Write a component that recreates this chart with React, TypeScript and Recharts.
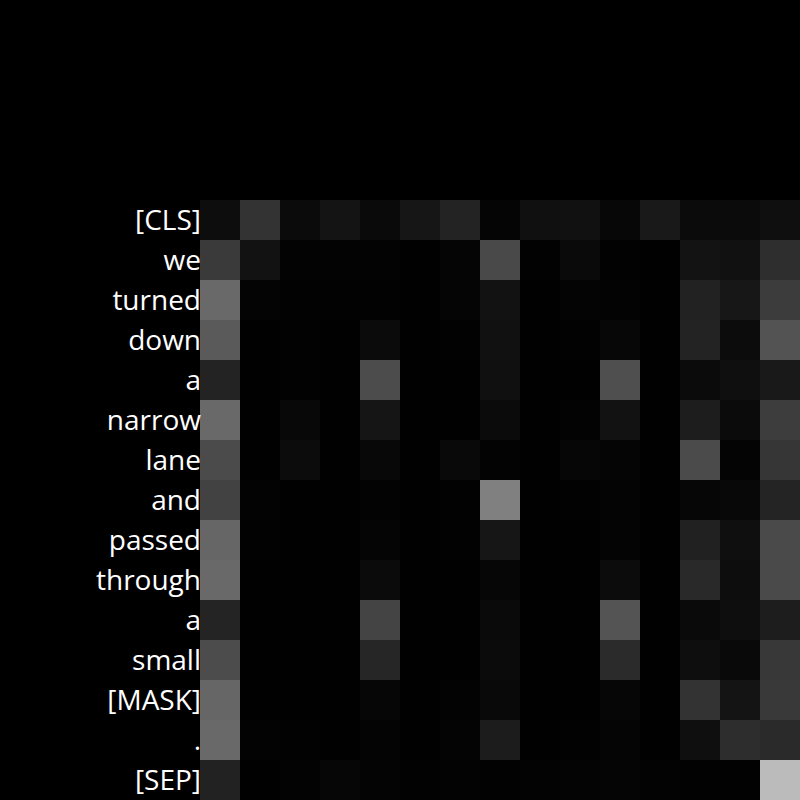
import React from 'react';
import { ScatterChart, Scatter, XAxis, YAxis } from 'recharts';

const tokens = [
    '[CLS]', 'we', 'turned', 'down', 'a', 'narrow', 'lane', 'and',
    'passed', 'through', 'a', 'small', '[MASK]', '.', '[SEP]',
];

// attention weights per row, read as grey level 0-255
const rowCls = [13, 51, 11, 20, 10, 22, 35, 5, 16, 17, 7, 25, 11, 11, 15];
const rowWe = [58, 18, 3, 3, 3, 1, 5, 73, 2, 10, 2, 1, 19, 17, 46];
const rowTurned = [105, 4, 2, 2, 2, 1, 5, 18, 1, 4, 3, 1, 34, 23, 60];
const rowDown = [90, 1, 2, 1, 11, 1, 2, 17, 1, 2, 7, 1, 35, 12, 83];
const rowA1 = [35, 1, 2, 1, 76, 1, 1, 16, 1, 1, 79, 1, 11, 15, 25];
const rowNarrow = [105, 1, 8, 1, 21, 1, 1, 11, 1, 3, 18, 1, 29, 11, 61];
const rowLane = [75, 1, 12, 1, 8, 1, 9, 3, 1, 6, 5, 1, 75, 4, 54];
const rowAnd = [66, 3, 1, 1, 3, 1, 2, 128, 1, 2, 4, 1, 6, 8, 36];
const rowPassed = [102, 2, 1, 1, 5, 1, 2, 22, 1, 1, 4, 1, 33, 15, 74];
const rowThrough = [105, 1, 1, 1, 11, 1, 1, 6, 1, 1, 12, 1, 41, 13, 74];
const rowA2 = [36, 1, 1, 1, 68, 1, 1, 10, 1, 1, 84, 1, 10, 14, 29];
const rowSmall = [76, 1, 1, 1, 38, 1, 1, 11, 1, 1, 43, 1, 14, 9, 56];
const rowMask = [102, 1, 1, 1, 6, 1, 3, 9, 1, 1, 6, 1, 51, 20, 57];
const rowDot = [105, 3, 2, 1, 4, 1, 4, 28, 1, 2, 5, 1, 15, 45, 42];
const rowSep = [34, 1, 3, 6, 4, 2, 3, 2, 3, 4, 5, 3, 2, 2, 187];

const rows = [
    rowCls, rowWe, rowTurned, rowDown, rowA1, rowNarrow, rowLane, rowAnd,
    rowPassed, rowThrough, rowA2, rowSmall, rowMask, rowDot, rowSep,
];

const n = tokens.length;
const cells = rows.flatMap((row, r) =>
    row.map((v, c) => ({ x: c + 0.5, y: r + 0.5, v }))
);
const rowTicks = tokens.map((_, i) => i + 0.5);

const W = 800;
const H = 800;
const LEFT = 200;
const TOP = 200;
const CELL = (W - LEFT) / n;

const Cell = (props: any) => {
    const { cx, cy, payload } = props;
    const g = payload.v;
    return (
        <rect
            x={cx - CELL / 2}
            y={cy - CELL / 2}
            width={CELL}
            height={CELL}
            fill={`rgb(${g},${g},${g})`}
        />
    );
};

export default function App() {
    return (
        <div style={{ position: 'absolute', left: 0, top: 0, width: W, height: H, background: '#000' }}>
            <ScatterChart width={W} height={H} margin={{ top: TOP, right: 0, bottom: 0, left: 0 }}>
                <XAxis type="number" dataKey="x" domain={[0, n]} hide />
                <YAxis
                    type="number"
                    dataKey="y"
                    domain={[0, n]}
                    reversed
                    ticks={rowTicks}
                    interval={0}
                    width={LEFT}
                    axisLine={false}
                    tickLine={false}
                    tickSize={0}
                    tickMargin={-1}
                    tickFormatter={(v: number) => tokens[Math.floor(v)]}
                    tick={{ fill: '#fff', fontSize: 28, fontFamily: 'Open Sans' }}
                />
                <Scatter data={cells} shape={<Cell />} isAnimationActive={false} />
            </ScatterChart>
        </div>
    );
}
